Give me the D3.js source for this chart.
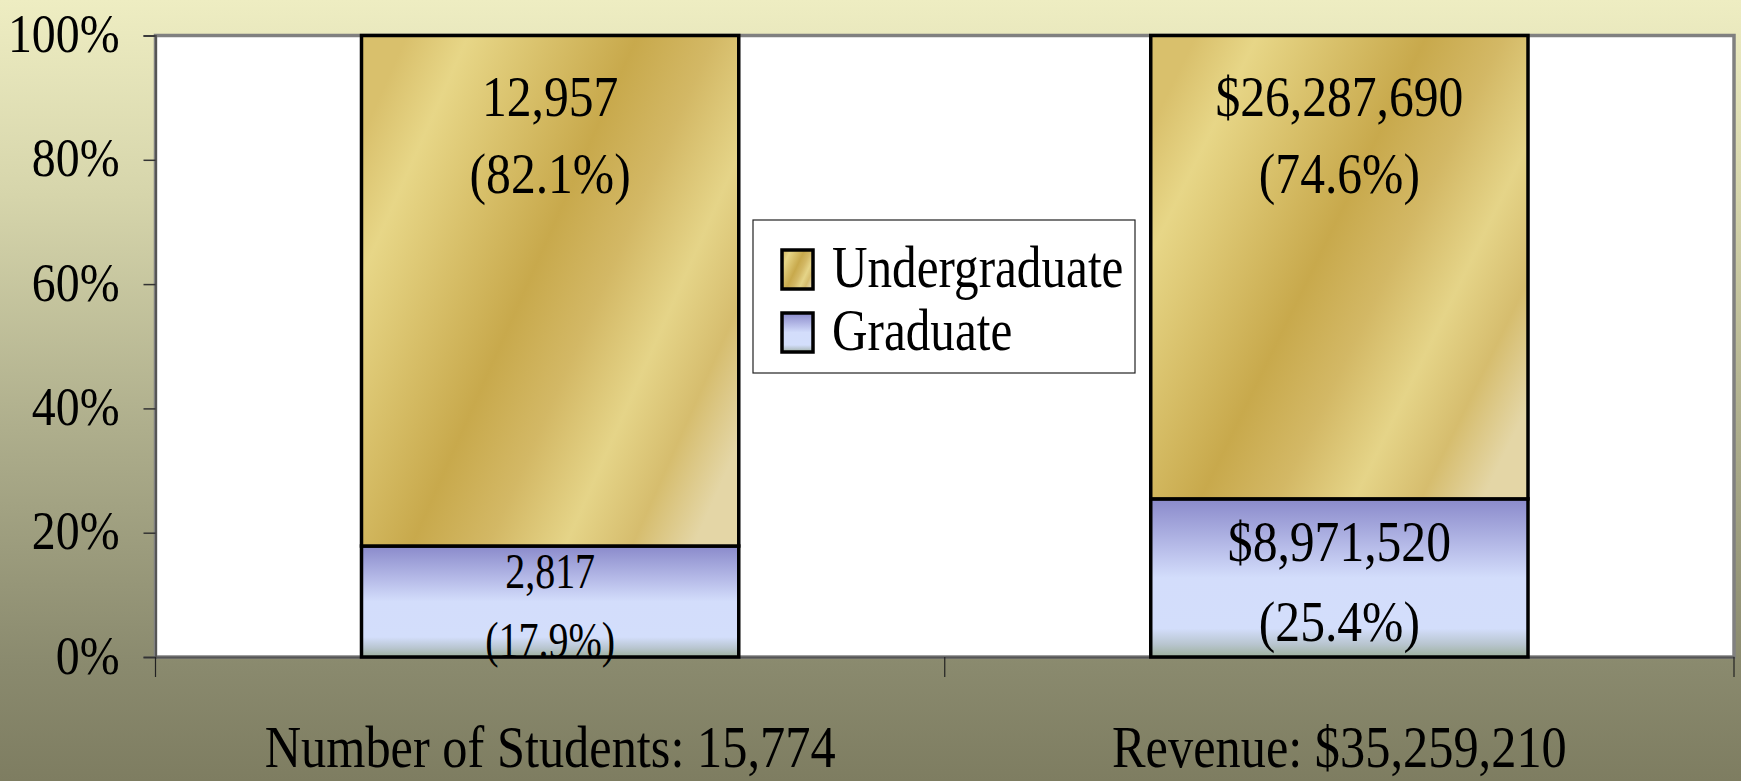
<!DOCTYPE html>
<html>
<head>
<meta charset="utf-8">
<script src="https://cdn.jsdelivr.net/npm/d3@7"></script>
<style>
  body { margin: 0; padding: 0; }
  svg { display: block; }
  text { font-family: "Liberation Serif", "Times New Roman", serif; fill: #000; }
</style>
</head>
<body>
<div id="chart"></div>
<script>
// chart data
const categories = ["Number of Students", "Revenue"];
const prefixes = ["", "$"];
const seriesNames = ["Graduate", "Undergraduate"];
const undergraduate = [12957, 26287690];
const graduate = [2817, 8971520];
const yTicks = [0, 0.2, 0.4, 0.6, 0.8, 1];

const width = 1741, height = 781;
const plot = { left: 155.5, right: 1734, top: 35.5, bottom: 657 };
const sx = 0.87; // the original text is drawn narrow

const rows = categories.map((c, i) => ({
    name: c,
    prefix: prefixes[i],
    Undergraduate: undergraduate[i],
    Graduate: graduate[i]
}));

const svg = d3.select("#chart").append("svg")
    .attr("width", width)
    .attr("height", height);

const defs = svg.append("defs");

// background
const bg = defs.append("linearGradient")
    .attr("id", "bg").attr("x1", 0).attr("y1", 0).attr("x2", 0).attr("y2", 1);
[["0%", "#eeedc2"], ["25%", "#d6d5ab"], ["55%", "#aeae8c"], ["85%", "#8a8a6e"], ["100%", "#7e7d61"]]
    .forEach(s => bg.append("stop").attr("offset", s[0]).attr("stop-color", s[1]));

// gold fill
const gold = defs.append("linearGradient")
    .attr("id", "gold").attr("x1", 0).attr("y1", 0.2).attr("x2", 1).attr("y2", 0.8);
[["0%", "#d9c06c"], ["12%", "#e7d687"], ["28%", "#d8c06a"], ["45%", "#c8a94c"], ["60%", "#d3b865"],
 ["75%", "#e5d488"], ["88%", "#d6bd6e"], ["100%", "#e4d6a6"]]
    .forEach(s => gold.append("stop").attr("offset", s[0]).attr("stop-color", s[1]));

// blue fill
const blue = defs.append("linearGradient")
    .attr("id", "blue").attr("x1", 0).attr("y1", 0).attr("x2", 0).attr("y2", 1);
[["0%", "#8a8acb"], ["30%", "#b6bbe8"], ["50%", "#d3ddfb"], ["82%", "#d3defb"], ["92%", "#b8c5cf"], ["100%", "#9db09c"]]
    .forEach(s => blue.append("stop").attr("offset", s[0]).attr("stop-color", s[1]));

const fills = { Undergraduate: "url(#gold)", Graduate: "url(#blue)" };

svg.append("rect")
    .attr("width", width).attr("height", height)
    .attr("fill", "url(#bg)");

// scales
const x = d3.scaleBand()
    .domain(categories)
    .range([plot.left, plot.right])
    .paddingInner(0.522)
    .paddingOuter(0.261);

const y = d3.scaleLinear()
    .domain([0, 1])
    .range([plot.bottom, plot.top]);

// plot area
svg.append("rect")
    .attr("x", plot.left).attr("y", plot.top)
    .attr("width", plot.right - plot.left)
    .attr("height", plot.bottom - plot.top)
    .attr("fill", "#fff")
    .attr("stroke", "#808080")
    .attr("stroke-width", 3.5);

// y axis
const yAxis = svg.append("g")
    .attr("transform", `translate(${plot.left},0)`)
    .call(d3.axisLeft(y).tickValues(yTicks).tickSize(12).tickFormat(d3.format(".0%")));
yAxis.select(".domain").attr("stroke", "#555").attr("stroke-width", 2);
yAxis.selectAll(".tick line").attr("stroke", "#333").attr("stroke-width", 1.5);
yAxis.selectAll(".tick text").remove();
yAxis.selectAll(".tick").append("text")
    .attr("text-anchor", "end")
    .attr("font-size", 55)
    .attr("transform", `translate(-36,16) scale(${sx},1)`)
    .text(d => d3.format(".0%")(d));

// x axis
const xAxis = svg.append("g")
    .attr("transform", `translate(0,${plot.bottom})`)
    .call(d3.axisBottom(x).tickSize(0).tickFormat(""));
xAxis.select(".domain").attr("stroke", "#555").attr("stroke-width", 2);
const step = x.step();
svg.append("g")
    .selectAll("line")
    .data(d3.range(categories.length + 1))
    .join("line")
    .attr("x1", i => plot.left + i * step)
    .attr("x2", i => plot.left + i * step)
    .attr("y1", plot.bottom)
    .attr("y2", plot.bottom + 20)
    .attr("stroke", "#222")
    .attr("stroke-width", 1.2);

svg.append("g")
    .selectAll("text")
    .data(rows)
    .join("text")
    .attr("text-anchor", "middle")
    .attr("font-size", 60)
    .attr("transform", d => `translate(${x(d.name) + x.bandwidth() / 2},767) scale(0.84,1)`)
    .text(d => `${d.name}: ${d.prefix}${d3.format(",")(d.Undergraduate + d.Graduate)}`);

// stacked bars
const stack = d3.stack()
    .keys(seriesNames)
    .offset(d3.stackOffsetExpand);
const series = stack(rows);

const layer = svg.append("g")
    .selectAll("g")
    .data(series)
    .join("g")
    .attr("fill", d => fills[d.key]);

layer.selectAll("rect")
    .data(d => d)
    .join("rect")
    .attr("x", d => x(d.data.name))
    .attr("y", d => y(d[1]))
    .attr("width", x.bandwidth())
    .attr("height", d => y(d[0]) - y(d[1]))
    .attr("stroke", "#000")
    .attr("stroke-width", 3.5);

// data labels
const labels = [];
series.forEach(s => {
    s.forEach(d => {
        const total = d.data.Undergraduate + d.data.Graduate;
        const v = d.data[s.key];
        const cx = x(d.data.name) + x.bandwidth() / 2;
        const top = y(d[1]), bot = y(d[0]);
        let b1, b2, fs = 57;
        if (s.key === "Undergraduate") {
            b1 = top + 80;
            b2 = top + 157;
        } else {
            b1 = Math.max(bot - 96, top + 42);
            b2 = Math.min(b1 + 80, bot);
            if (bot - top < 150) fs = 50;
        }
        labels.push({ cx, y: b1, fs, text: d.data.prefix + d3.format(",")(v) });
        labels.push({ cx, y: b2, fs, text: "(" + d3.format(".1%")(v / total) + ")" });
    });
});

svg.append("g")
    .selectAll("text")
    .data(labels)
    .join("text")
    .attr("text-anchor", "middle")
    .attr("font-size", d => d.fs)
    .attr("transform", d => `translate(${d.cx},${d.y}) scale(${d.fs < 57 ? 0.8 : sx},1)`)
    .text(d => d.text);

// legend
const legend = svg.append("g").attr("transform", "translate(753,220)");
legend.append("rect")
    .attr("width", 382).attr("height", 153)
    .attr("fill", "#fff")
    .attr("stroke", "#222")
    .attr("stroke-width", 1.2);

const legendItems = legend.selectAll("g")
    .data(["Undergraduate", "Graduate"])
    .join("g")
    .attr("transform", (d, i) => `translate(0,${30 + i * 63})`);

legendItems.append("rect")
    .attr("x", 29).attr("y", 0)
    .attr("width", 31).attr("height", 39)
    .attr("fill", d => fills[d])
    .attr("stroke", "#000")
    .attr("stroke-width", 3.5);

legendItems.append("text")
    .attr("font-size", 60)
    .attr("transform", "translate(79,37) scale(0.82,1)")
    .text(d => d);
</script>
</body>
</html>
